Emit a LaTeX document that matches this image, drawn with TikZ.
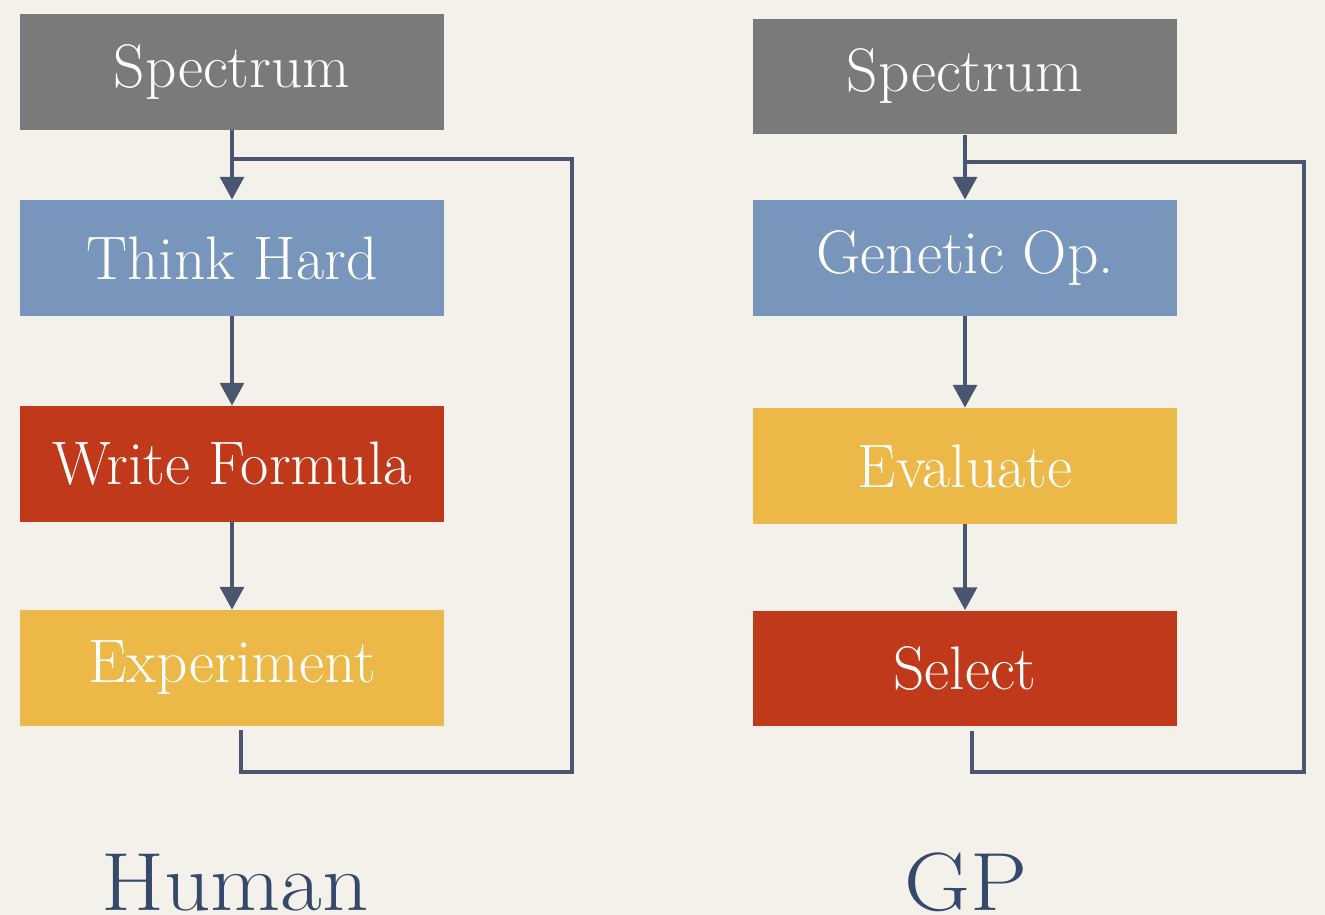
\documentclass[tikz,border=0pt]{standalone}
\usetikzlibrary{arrows.meta}
\definecolor{bg}{HTML}{F4F1EA}
\definecolor{cgray}{HTML}{7A7A7A}
\definecolor{cblue}{HTML}{7896BB}
\definecolor{cred}{HTML}{C0391B}
\definecolor{cyel}{HTML}{ECB847}
\definecolor{cline}{HTML}{4A5670}
\definecolor{ctitle}{HTML}{35496B}
\tikzset{
  box/.style={rectangle, minimum width=8.48cm, minimum height=2.32cm, inner sep=0pt,
    text=white, font=\fontsize{35}{40}\selectfont},
  conn/.style={draw=cline, line width=0.08cm},
  arr/.style={conn, -{Triangle[length=13pt,width=13.5pt]}},
  title/.style={text=ctitle, font=\fontsize{47}{52}\selectfont, inner sep=0pt, anchor=base, xscale=1.1}
}
\begin{document}
\begin{tikzpicture}[x=0.02cm,y=-0.02cm]
\clip (0,0) rectangle (1325,915);
\fill[bg] (0,0) rectangle (1325,915);
% left column
\node[box, fill=cgray] (s1) at (232,72) {Spectrum};
\node[box, fill=cblue] (t1) at (232,258) {Think Hard};
\node[box, fill=cred] (w1) at (232,464) {Write Formula};
\node[box, fill=cyel] (e1) at (232,668) {Experiment};
\coordinate (j1) at (232,159);
\draw[arr] (s1) -- (t1);
\draw[arr] (t1) -- (w1);
\draw[arr] (w1) -- (e1);
\draw[conn] ([xshift=.18cm,yshift=-.08cm]e1.south) |- (572,772) -- (572,159) -- (j1);
% right column
\node[box, fill=cgray] (s2) at (965,76.5) {Spectrum};
\node[box, fill=cblue] (g2) at (965,258) {Genetic Op.};
\node[box, fill=cyel] (v2) at (965,466) {Evaluate};
\node[box, fill=cred] (l2) at (965,668.5) {Select};
\coordinate (j2) at (965,162);
\draw[arr] (s2) -- (g2);
\draw[arr] (g2) -- (v2);
\draw[arr] (v2) -- (l2);
\draw[conn] ([xshift=.14cm,yshift=-.08cm]l2.south) |- (1304,772) -- (1304,162) -- (j2);
% titles
\node[title] (h) at (235,910) {Human};
\node[title] (gp) at (966,910) {GP};
\end{tikzpicture}
\end{document}
